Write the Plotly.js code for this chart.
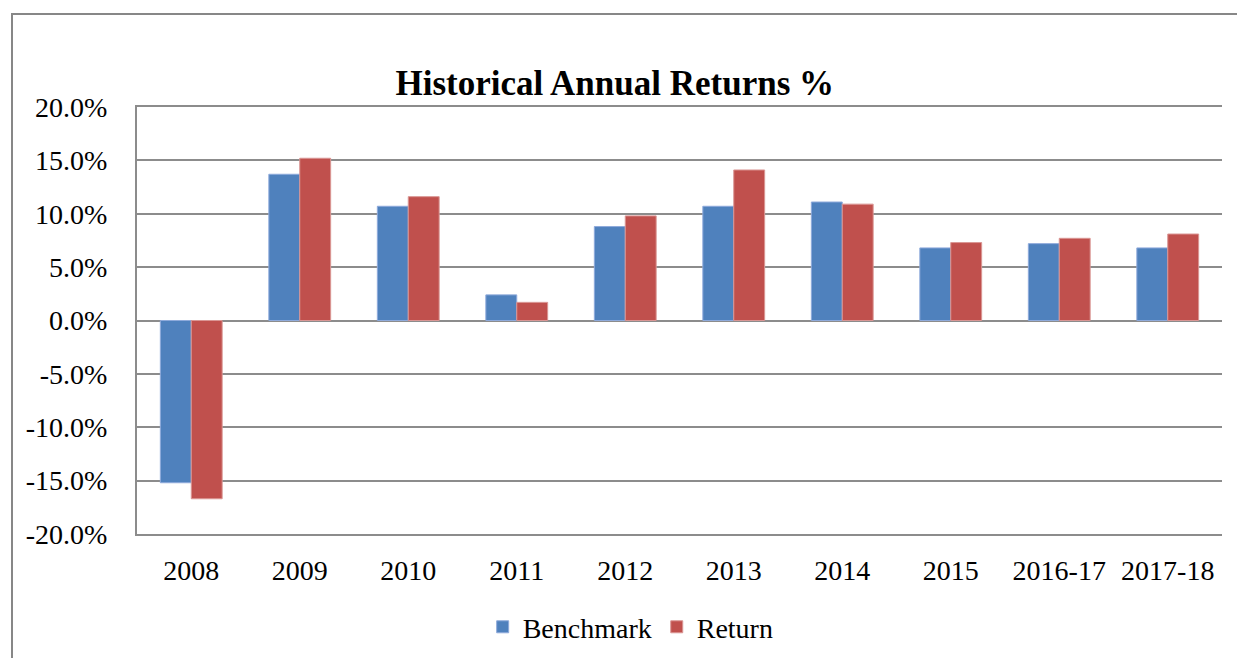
<!DOCTYPE html>
<html>
<head>
<meta charset="utf-8">
<script src="https://cdn.plot.ly/plotly-3.0.1.min.js"></script>
<style>
html,body{margin:0;padding:0;background:#fff;overflow:hidden;}
#wrap{position:relative;width:1237px;height:658px;}
#chart{width:1237px;height:658px;}
#frame{position:absolute;left:11px;top:13px;width:1300px;height:700px;border-top:2px solid #878787;border-left:2px solid #878787;pointer-events:none;}
</style>
</head>
<body>
<div id="wrap"><div id="chart"></div><div id="frame"></div></div>
<script>
const categories = ["2008","2009","2010","2011","2012","2013","2014","2015","2016-17","2017-18"];
const benchmark = [-15.2, 13.7, 10.7, 2.4, 8.8, 10.7, 11.1, 6.8, 7.2, 6.8];
const returns   = [-16.7, 15.2, 11.6, 1.7, 9.8, 14.1, 10.9, 7.3, 7.7, 8.1];
const yTicks = [-20,-15,-10,-5,0,5,10,15,20];
const yTickText = yTicks.map(v => v.toFixed(1) + "%");

const font = "Liberation Serif, Times New Roman, serif";

const traces = [
  {type:"bar", name:"Benchmark", x:categories, y:benchmark,
   marker:{color:"#4F81BD", line:{color:"#8EAADB", width:1}}},
  {type:"bar", name:"Return", x:categories, y:returns,
   marker:{color:"#C0504D", line:{color:"#DA9694", width:1}}}
];

const layout = {
  width:1237, height:658,
  margin:{l:137, r:15, t:107, b:124, autoexpand:false},
  paper_bgcolor:"#fff", plot_bgcolor:"#fff",
  font:{family:font, color:"#000", size:28},
  title:{text:"<b>Historical Annual Returns %</b>", font:{family:font, size:35, color:"#000"},
         xref:"container", x:0.497, xanchor:"center", yref:"container", y:0.875, yanchor:"middle"},
  barmode:"group", bargap:0.43, bargroupgap:0,
  showlegend:true,
  legend:{orientation:"h", x:0.455, xanchor:"center", y:-0.218, yanchor:"middle",
          font:{family:font, size:28, color:"#000"}, itemwidth:30, traceorder:"normal"},
  xaxis:{type:"category", showgrid:false, zeroline:false,
         showline:true, mirror:true, linecolor:"#8c8c8c", linewidth:2,
         ticks:"outside", ticklen:10, tickcolor:"rgba(0,0,0,0)",
         tickfont:{family:font, size:28, color:"#000"}},
  yaxis:{range:[-20,20], tickvals:yTicks, ticktext:yTickText,
         showgrid:true, gridcolor:"#8c8c8c", gridwidth:2,
         zeroline:true, zerolinecolor:"#8c8c8c", zerolinewidth:2,
         showline:true, linecolor:"#8c8c8c", linewidth:2,
         ticks:"outside", ticklen:22, tickcolor:"rgba(0,0,0,0)",
         tickfont:{family:font, size:28, color:"#000"}}
};

Plotly.newPlot("chart", traces, layout, {displayModeBar:false, staticPlot:true});
</script>
</body>
</html>
